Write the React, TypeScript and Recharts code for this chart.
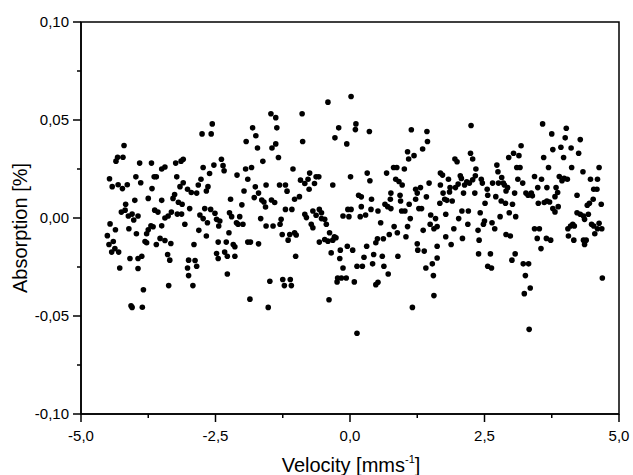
import React from 'react';
import { ScatterChart, Scatter, XAxis, YAxis, ReferenceArea } from 'recharts';

const xTicks = [-5, -3.75, -2.5, -1.25, 0, 1.25, 2.5, 3.75, 5];
const xMajor = [-5, -2.5, 0, 2.5, 5];
const yTicks = [-0.1, -0.075, -0.05, -0.025, 0, 0.025, 0.05, 0.075, 0.1];
const yMajor = [-0.1, -0.05, 0, 0.05, 0.1];

// [velocity mm/s, absorption %]
const segmentA: [number, number][] = [
  [-4.2, 0.037], [-4.32, 0.031], [-4.35, 0.029], [-4.22, 0.031], [-3.91, 0.028], [-3.69, 0.028],
  [-3.5, 0.025], [-3.44, 0.026], [-3.24, 0.028], [-3.14, 0.029], [-3.1, 0.03], [-4.47, 0.02],
  [-4.42, 0.016], [-4.31, 0.017], [-4.23, 0.015], [-4.14, 0.017], [-3.98, 0.021], [-3.89, 0.018],
  [-3.64, 0.021], [-3.6, 0.021], [-3.68, 0.015], [-3.22, 0.021], [-3.1, 0.018], [-3.16, 0.016],
  [-3.26, 0.012], [-3.29, 0.01], [-4.17, 0.007], [-4.0, 0.009], [-3.75, 0.01], [-3.5, 0.009],
  [-3.19, 0.008], [-3.12, 0.007], [-4.25, 0.003], [-4.18, 0.004], [-4.12, 0.001], [-4.05, 0.002],
  [-4.02, -0.001], [-3.94, 0.001], [-3.63, 0.004], [-3.57, 0.003], [-3.38, 0.001], [-3.44, 0.0],
  [-3.32, 0.003], [-3.21, 0.002], [-3.13, 0.002], [-4.46, -0.003], [-4.36, -0.006], [-4.11, -0.0055],
  [-3.97, -0.008], [-3.7, -0.004], [-3.75, -0.006], [-3.78, -0.008], [-3.66, -0.0045], [-3.5, -0.004],
  [-4.51, -0.009], [-4.4, -0.012], [-4.48, -0.0135], [-3.81, -0.012], [-3.78, -0.0126], [-3.6, -0.0135],
  [-3.53, -0.0104], [-3.44, -0.0115], [-3.33, -0.013], [-4.37, -0.0156], [-4.3, -0.0174], [-4.43, -0.0174],
  [-3.39, -0.0186], [-3.35, -0.0215], [-4.09, -0.0207], [-3.94, -0.0207], [-3.87, -0.0195], [-4.28, -0.0255],
  [-3.94, -0.0258], [-3.84, -0.0366], [-3.37, -0.0345], [-4.07, -0.0448], [-4.05, -0.0456], [-3.86, -0.0455],
];

const segmentB: [number, number][] = [
  [-2.56, 0.048], [-2.75, 0.0429], [-2.58, 0.0429], [-1.47, 0.0532], [-1.38, 0.0512], [-1.81, 0.046],
  [-1.93, 0.039], [-1.75, 0.042], [-1.72, 0.0357], [-1.45, 0.0357], [-2.39, 0.03], [-1.62, 0.0289],
  [-2.73, 0.0258], [-2.53, 0.027], [-2.36, 0.0267], [-2.34, 0.0241], [-2.61, 0.0227], [-1.94, 0.025],
  [-1.83, 0.0258], [-2.1, 0.0219], [-1.9, 0.0198], [-2.77, 0.0198], [-2.82, 0.0168], [-3.02, 0.0147],
  [-2.95, 0.013], [-2.85, 0.0127], [-2.64, 0.016], [-2.67, 0.0138], [-1.56, 0.0168], [-1.76, 0.0159],
  [-1.97, 0.0138], [-1.7, 0.0127], [-1.78, 0.0104], [-1.64, 0.0092], [-1.6, 0.0082], [-1.46, 0.0092],
  [-1.4, 0.0079], [-2.22, 0.0096], [-2.01, 0.0067], [-1.57, 0.0056], [-2.98, 0.0048], [-2.7, 0.0048],
  [-2.59, 0.0044], [-2.51, 0.0024], [-2.79, 0.0015], [-2.73, -0.0003], [-2.65, -0.0024], [-2.48, -0.0007],
  [-2.42, -0.0015], [-2.44, -0.0041], [-2.24, 0.0027], [-2.2, 0.0007], [-2.05, 0.0007], [-2.11, -0.0024],
  [-2.08, -0.0032], [-1.99, -0.0032], [-1.66, -0.0003], [-1.56, -0.0041], [-1.43, -0.0041], [-3.07, -0.0032],
  [-2.81, -0.0063], [-2.67, -0.0092], [-2.25, -0.0075], [-2.9, -0.0135], [-2.45, -0.0123], [-2.3, -0.0123],
  [-2.17, -0.0135], [-2.14, -0.0147], [-1.9, -0.0123], [-1.85, -0.0123], [-1.7, -0.0132], [-2.48, -0.0181],
  [-2.45, -0.0207], [-2.33, -0.0174], [-2.28, -0.0195], [-2.14, -0.0195], [-3.0, -0.0215], [-2.88, -0.0217],
  [-3.02, -0.0255], [-2.85, -0.0246], [-3.0, -0.0294], [-2.92, -0.0345], [-2.28, -0.0286], [-1.49, -0.0323],
  [-1.86, -0.0414], [-1.52, -0.0456],
];

const segmentC: [number, number][] = [
  [-1.36, 0.046], [-1.38, 0.0378], [-1.33, 0.0309], [-0.89, 0.0532], [-0.88, 0.039], [-0.41, 0.0591],
  [0.02, 0.062], [-0.21, 0.046], [0.11, 0.048], [0.1, 0.0451], [-0.28, 0.0409], [-0.06, 0.0378],
  [-1.06, 0.025], [-0.75, 0.0229], [-0.63, 0.021], [-0.58, 0.021], [-0.92, 0.0193], [-0.84, 0.0176],
  [-0.78, 0.0198], [-0.66, 0.0176], [-1.31, 0.0168], [-1.2, 0.0168], [-1.17, 0.0137], [-0.76, 0.0147],
  [-0.32, 0.0168], [0.01, 0.021], [0.16, 0.0116], [-1.03, 0.0096], [-0.94, 0.0109], [-1.2, 0.0044],
  [-1.08, 0.0044], [-0.84, 0.0019], [-0.81, 0.0002], [-0.69, 0.0036], [-0.57, 0.0044], [-0.53, 0.0027],
  [-0.63, 0.0014], [-0.72, -0.0032], [-0.69, -0.005], [-0.53, -0.0003], [-0.47, -0.0007], [-0.44, -0.0032],
  [-1.28, -0.0007], [-1.3, -0.0032], [-1.26, -0.0084], [-1.15, -0.0113], [-1.12, -0.0084], [-1.03, -0.0075],
  [-1.0, -0.0087], [-0.13, 0.001], [-0.02, 0.0007], [-0.04, 0.0044], [0.02, 0.0044], [0.19, 0.0007],
  [-0.38, -0.0075], [-0.29, -0.0096], [-0.32, -0.0113], [-0.41, -0.0118], [-0.47, -0.011], [-0.57, -0.0123],
  [-0.26, -0.0101], [-0.35, -0.0178], [-0.18, -0.0164], [-0.05, -0.0144], [0.05, -0.0164], [-0.19, -0.0207],
  [-0.13, -0.0255], [0.13, -0.0246], [-0.23, -0.0306], [-0.16, -0.0306], [-0.07, -0.0306], [-0.24, -0.0326],
  [0.08, -0.0326], [-1.01, -0.0195], [-1.25, -0.0314], [-1.11, -0.0314], [-1.22, -0.0345], [-1.09, -0.0345],
  [-0.39, -0.0417], [0.13, -0.0588],
];

const segmentD: [number, number][] = [
  [0.36, 0.0441], [1.14, 0.045], [1.43, 0.0441], [1.44, 0.039], [1.35, 0.0352], [1.19, 0.0318],
  [1.07, 0.0338], [1.09, 0.0301], [0.32, 0.0229], [0.37, 0.019], [0.68, 0.0229], [0.81, 0.0258],
  [0.87, 0.0258], [1.01, 0.025], [0.85, 0.0198], [0.91, 0.0186], [0.97, 0.0168], [1.68, 0.0229],
  [1.72, 0.0219], [1.47, 0.0178], [1.68, 0.0168], [1.22, 0.0147], [1.31, 0.0155], [1.25, 0.0127],
  [0.21, 0.0108], [0.4, 0.0096], [0.76, 0.0127], [0.75, 0.0096], [0.93, 0.0116], [0.94, 0.0087],
  [1.22, 0.0096], [1.42, 0.0108], [1.73, 0.0127], [1.76, 0.0096], [1.67, 0.0075], [0.21, 0.0058],
  [0.39, 0.0044], [0.52, 0.0036], [0.65, 0.007], [0.7, 0.0058], [0.76, 0.0048], [1.1, 0.007],
  [0.96, 0.0036], [1.02, 0.0036], [1.28, 0.0048], [1.33, 0.0048], [1.12, -0.0003], [1.5, 0.0015],
  [1.59, -0.0003], [1.78, 0.0019], [0.29, 0.0015], [0.57, -0.0024], [0.82, -0.0044], [1.07, -0.0044],
  [1.49, -0.0032], [1.56, -0.0055], [1.62, -0.0044], [0.88, -0.0075], [0.73, -0.0084], [0.62, -0.0106],
  [0.51, -0.0106], [0.48, -0.0126], [1.04, -0.0096], [1.36, -0.0063], [1.78, -0.0096], [0.31, -0.0144],
  [0.26, -0.02], [0.44, -0.0186], [0.6, -0.0195], [0.23, -0.0246], [0.42, -0.0234], [0.63, -0.0246],
  [0.71, -0.0286], [0.89, -0.0195], [1.25, -0.0132], [1.26, -0.0164], [1.38, -0.0169], [1.62, -0.0144],
  [1.62, -0.0204], [1.53, -0.0234], [1.41, -0.0255], [1.55, -0.0294], [0.52, -0.0328], [0.48, -0.034],
  [1.56, -0.0396], [1.16, -0.0456],
];

const segmentE: [number, number][] = [
  [2.25, 0.0472], [3.18, 0.0369], [3.04, 0.033], [2.95, 0.0309], [3.14, 0.0318], [2.24, 0.033],
  [2.28, 0.0301], [1.95, 0.0301], [1.99, 0.0287], [2.73, 0.027], [2.75, 0.0236], [3.1, 0.0258],
  [3.16, 0.0258], [3.43, 0.0212], [1.83, 0.0198], [2.05, 0.0215], [2.07, 0.0202], [2.34, 0.025],
  [2.33, 0.0215], [2.28, 0.0195], [2.44, 0.0198], [2.46, 0.0178], [2.17, 0.0185], [2.22, 0.0178],
  [2.13, 0.0168], [2.01, 0.0173], [1.96, 0.0155], [1.86, 0.0155], [1.85, 0.0133], [2.65, 0.0178],
  [2.76, 0.0178], [2.82, 0.0207], [2.85, 0.0178], [2.87, 0.0168], [2.93, 0.0155], [3.12, 0.0198],
  [3.21, 0.0178], [2.11, 0.0127], [2.32, 0.0127], [2.55, 0.0147], [2.56, 0.0116], [2.9, 0.0138],
  [3.06, 0.0127], [3.27, 0.0127], [3.31, 0.0116], [3.37, 0.0127], [3.39, 0.0113], [1.8, 0.009],
  [1.9, 0.0087], [2.51, 0.0075], [2.71, 0.0109], [2.81, 0.0087], [2.89, 0.0075], [3.02, 0.007],
  [2.08, 0.0036], [2.2, 0.0036], [2.42, 0.0027], [2.79, 0.0007], [2.96, 0.0027], [3.08, 0.0007],
  [2.02, -0.0003], [2.5, -0.0015], [2.48, -0.0032], [2.64, -0.0024], [2.19, -0.0032], [1.93, -0.0055],
  [2.38, -0.0063], [2.69, -0.0055], [2.09, -0.0104], [1.88, -0.0135], [2.4, -0.0113], [2.9, -0.0084],
  [2.98, -0.0092], [3.43, -0.0055], [2.39, -0.0183], [2.61, -0.0183], [3.07, -0.0183], [3.01, -0.0215],
  [2.56, -0.0246], [2.63, -0.0255], [3.22, -0.0234], [3.32, -0.0234], [3.26, -0.0294], [3.35, -0.0357],
  [3.24, -0.0386], [3.33, -0.0568],
];

const segmentF: [number, number][] = [
  [3.58, 0.048], [3.75, 0.0429], [4.02, 0.0458], [4.0, 0.0409], [4.28, 0.04], [3.6, 0.0309],
  [3.77, 0.0349], [3.92, 0.0361], [3.97, 0.0309], [4.11, 0.0357], [4.25, 0.033], [3.69, 0.0258],
  [4.12, 0.0258], [4.33, 0.0236], [4.63, 0.0258], [3.56, 0.0198], [3.89, 0.0212], [3.94, 0.019],
  [3.98, 0.0202], [4.04, 0.0198], [4.47, 0.0198], [4.6, 0.0198], [3.49, 0.0155], [3.66, 0.0155],
  [3.83, 0.0155], [3.86, 0.013], [3.81, 0.0109], [4.22, 0.0116], [4.53, 0.0147], [4.59, 0.0147],
  [4.52, 0.0096], [4.45, 0.0075], [4.41, 0.0065], [4.67, 0.007], [3.5, 0.0075], [3.61, 0.0079],
  [3.66, 0.0087], [3.71, 0.0082], [3.77, 0.0048], [3.81, 0.0031], [3.87, 0.0058], [4.22, 0.0027],
  [4.28, 0.0019], [4.34, 0.001], [4.43, 0.0019], [4.36, -0.0007], [4.49, -0.0032], [4.53, -0.0041],
  [4.6, -0.0055], [4.63, -0.0027], [4.68, -0.0055], [4.55, -0.008], [4.05, -0.0055], [4.1, -0.0041],
  [4.14, -0.0032], [4.17, -0.0041], [4.06, -0.0092], [4.16, -0.0113], [4.34, -0.0113], [4.39, -0.0113],
  [4.36, -0.0135], [3.52, -0.0055], [3.48, -0.0104], [3.65, -0.0104], [3.73, -0.0113], [3.55, -0.0156],
  [4.69, -0.0306],
];

const data = [...segmentA, ...segmentB, ...segmentC, ...segmentD, ...segmentE, ...segmentF].map(
  ([v, a]) => ({ v, a })
);

const FONT = '"Liberation Sans", Arial, sans-serif';
const fmt = (n: number, d: number) => n.toFixed(d).replace('.', ',');
const isMajor = (v: number, list: number[]) => list.some((m) => Math.abs(m - v) < 1e-9);

const YTick = (props: any) => {
  const { x, y, payload } = props;
  const ax = x + 12;
  const major = isMajor(payload.value, yMajor);
  return (
    <g>
      <line x1={ax - (major ? 8 : 4)} x2={ax} y1={y} y2={y} stroke="#000" strokeWidth={1.5} />
      {major && (
        <text x={x} y={y} dy="0.36em" textAnchor="end" fontSize={15} fill="#000" fontFamily={FONT}>
          {fmt(payload.value, 2)}
        </text>
      )}
    </g>
  );
};

const XTick = (props: any) => {
  const { x, y, payload } = props;
  const ay = y - 16;
  const major = isMajor(payload.value, xMajor);
  return (
    <g>
      <line x1={x} x2={x} y1={ay} y2={ay + (major ? 8 : 4)} stroke="#000" strokeWidth={1.5} />
      {major && (
        <text x={x} y={y} dy="0.71em" textAnchor="middle" fontSize={15} fill="#000" fontFamily={FONT}>
          {fmt(payload.value, 1)}
        </text>
      )}
    </g>
  );
};

const YTitle = () => (
  <text
    x={20}
    y={228}
    dy="0.36em"
    transform="rotate(-90, 20, 228)"
    textAnchor="middle"
    fontSize={20}
    fill="#000"
    fontFamily={FONT}
  >
    Absorption [%]
  </text>
);

const XTitle = () => (
  <text x={351} y={472} textAnchor="middle" fontSize={20} fill="#000" fontFamily={FONT}>
    Velocity [mms
    <tspan fontSize={11} dy={-9}>
      -1
    </tspan>
    <tspan dy={9}>]</tspan>
  </text>
);

const Dot = (props: any) => <circle cx={props.cx} cy={props.cy} r={2.8} fill="#000" />;

export default function App() {
  return (
    <div style={{ position: 'absolute', left: 0, top: 0, width: 633, height: 475, background: '#fff' }}>
      <ScatterChart width={633} height={475} margin={{ top: 22, right: 14, bottom: 0, left: 0 }}>
        <XAxis
          type="number"
          dataKey="v"
          domain={[-5, 5]}
          ticks={xTicks}
          interval={0}
          height={61}
          tickSize={8}
          tickMargin={8}
          tickLine={false}
          axisLine={{ stroke: '#000', strokeWidth: 1.5 }}
          tick={(p: any) => <XTick {...p} />}
          allowDataOverflow
          label={{ content: () => <XTitle /> }}
        />
        <YAxis
          type="number"
          dataKey="a"
          domain={[-0.1, 0.1]}
          ticks={yTicks}
          interval={0}
          width={81}
          tickSize={8}
          tickMargin={4}
          tickLine={false}
          axisLine={{ stroke: '#000', strokeWidth: 1.5 }}
          tick={(p: any) => <YTick {...p} />}
          allowDataOverflow
          label={{ content: () => <YTitle /> }}
        />
        <ReferenceArea
          x1={-5}
          x2={5}
          y1={-0.1}
          y2={0.1}
          fill="none"
          stroke="#000"
          strokeWidth={1.5}
          ifOverflow="visible"
        />
        <Scatter data={data} shape={(p: any) => <Dot {...p} />} isAnimationActive={false} />
      </ScatterChart>
    </div>
  );
}
